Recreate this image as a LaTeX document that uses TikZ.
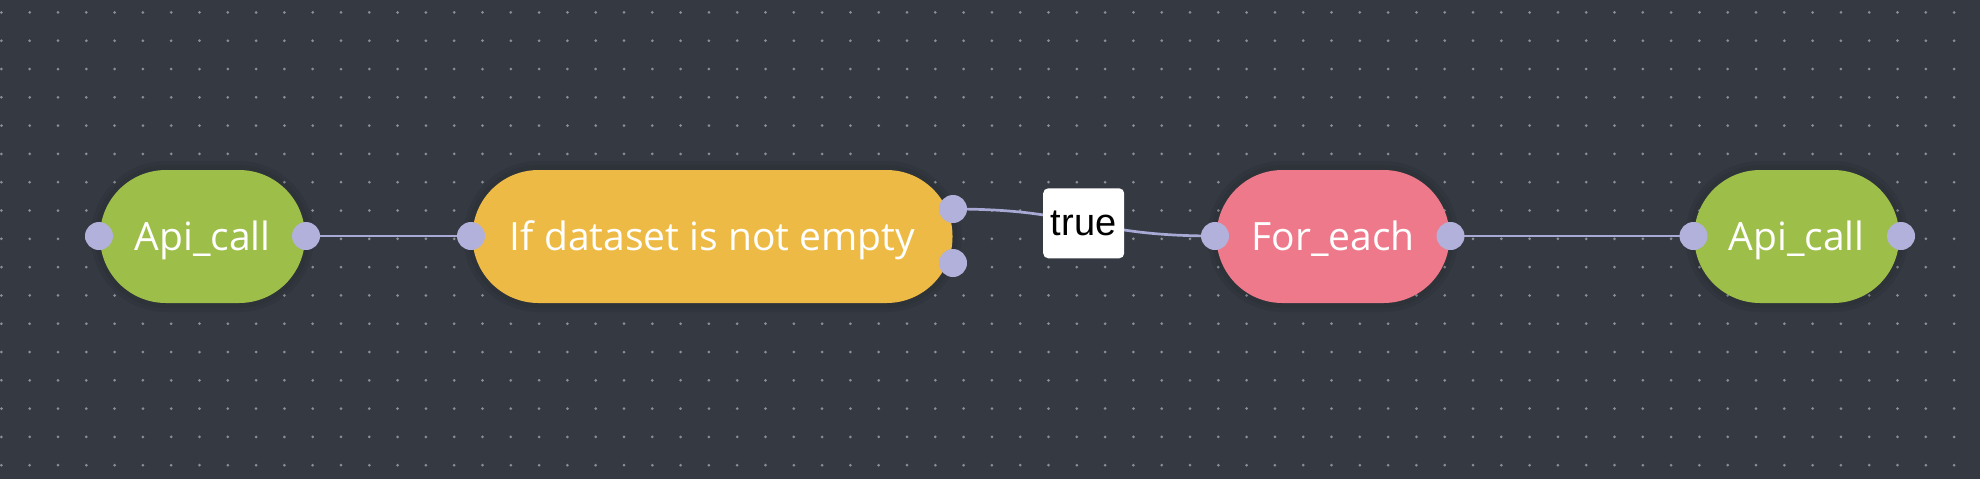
\documentclass[tikz,border=0pt]{standalone}
\usepackage{fontspec}
\setmainfont{Open Sans}
\newfontfamily\tagfont{Liberation Sans}
\pgfdeclarelayer{gridlayer}
\pgfdeclarelayer{edgelayer}
\pgfdeclarelayer{nodelayer}
\pgfsetlayers{gridlayer,edgelayer,nodelayer,main}
\definecolor{canvas}{HTML}{343942}
\definecolor{griddot}{HTML}{8A8F96}
\definecolor{leaf}{HTML}{9DBE48}
\definecolor{amber}{HTML}{EDBA45}
\definecolor{rose}{HTML}{EE798A}
\definecolor{lilac}{HTML}{B1B1DB}
\definecolor{wirecol}{HTML}{A9A9D5}
\tikzstyle{flow}=[rectangle,rounded corners=33pt,minimum height=66.5pt,inner sep=0pt,text=white,font=\fontsize{19.5}{22}\selectfont,text height=14pt,text depth=0pt,preaction={draw=black,draw opacity=0.05,line width=9pt},preaction={draw=black,draw opacity=0.05,line width=5pt}]
\tikzstyle{green}=[flow,fill=leaf,minimum width=102.5pt]
\tikzstyle{yellow}=[flow,fill=amber,minimum width=240pt]
\tikzstyle{pink}=[flow,fill=rose,minimum width=116.5pt]
\tikzstyle{port}=[circle,fill=lilac,minimum size=14pt,inner sep=0pt]
\tikzstyle{tagbox}=[rectangle,fill=white,rounded corners=2.5pt,minimum width=40.5pt,minimum height=35pt,inner sep=0pt,font=\tagfont\fontsize{19}{21}\selectfont,text=black]
\tikzstyle{link}=[draw=wirecol,line width=1.35pt]

\begin{document}
\begin{tikzpicture}[x=0.5pt,y=-0.5pt]
	\useasboundingbox (0,0) rectangle (1980,478);
	\begin{pgfonlayer}{gridlayer}
		\fill[canvas] (-4,-4) rectangle (1984,482);
		\foreach \i in {0,...,69}
			\foreach \j in {0,...,16}
				\fill[griddot] (1.4+28.3*\i,12.4+28.3*\j) circle (0.75pt);
	\end{pgfonlayer}
	\begin{pgfonlayer}{nodelayer}
		\node [style=green] (0) at (202.5,236.5) {Api\_call};
		\node [style=yellow] (1) at (712.5,236.5) {If dataset is not empty};
		\node [style=pink] (2) at (1333,236.5) {For\_each};
		\node [style=green] (3) at (1796.7,236.5) {Api\_call};
		\node [style=tagbox] (4) at (1083.7,223.3) {true};
		\node [style=port] (5) at (99,236) {};
		\node [style=port] (6) at (306,236) {};
		\node [style=port] (7) at (471,236) {};
		\node [style=port] (8) at (953,209) {};
		\node [style=port] (9) at (953,263) {};
		\node [style=port] (10) at (1215,236) {};
		\node [style=port] (11) at (1450.5,236) {};
		\node [style=port] (12) at (1693.5,236) {};
		\node [style=port] (13) at (1901,236) {};
	\end{pgfonlayer}
	\begin{pgfonlayer}{edgelayer}
		\draw [style=link] (6.center) to (7.center);
		\draw [style=link] (8.center) .. controls (1084,209) and (1084,236) .. (10.center);
		\draw [style=link] (11.center) to (12.center);
	\end{pgfonlayer}
\end{tikzpicture}
\end{document}
